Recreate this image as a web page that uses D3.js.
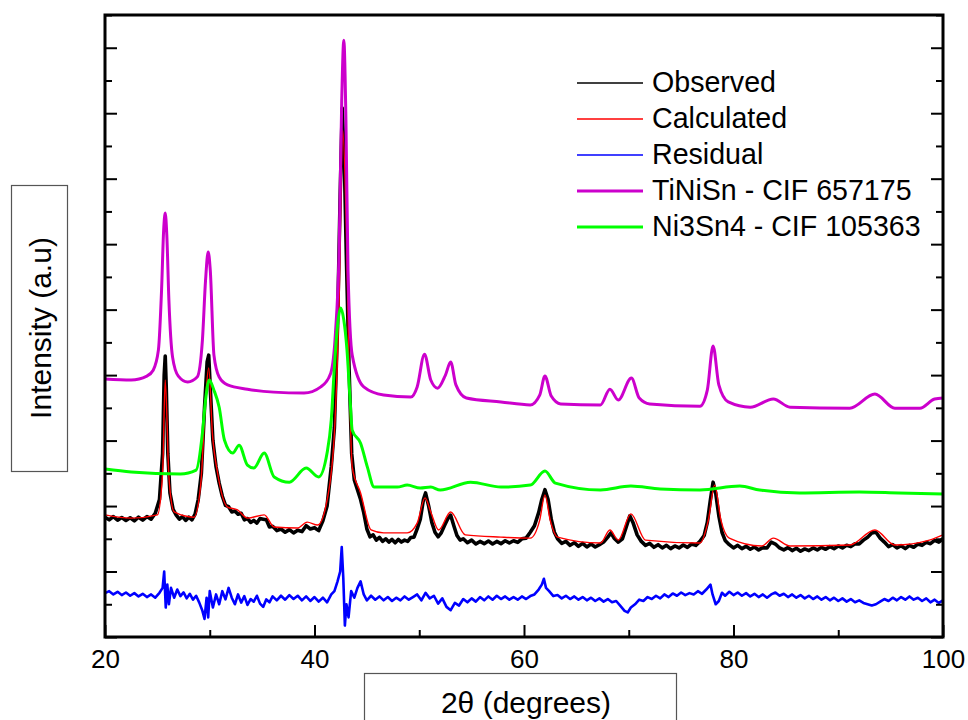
<!DOCTYPE html>
<html>
<head>
<meta charset="utf-8">
<script src="https://cdn.jsdelivr.net/npm/d3@7"></script>
<style>
  body { margin: 0; background: #fff; }
  svg { display: block; font-family: Arial, "Liberation Sans", sans-serif; }
</style>
</head>
<body>
<script>
var width = 968;
var height = 720;

// x ticks (2 theta) and y ticks (arbitrary intensity units)
var majorX = [20, 40, 60, 80, 100];
var minorX = [30, 50, 70, 90];
var majorY = [0, 200, 400, 600, 800, 1000, 1200, 1400, 1600, 1800];
var minorY = [100, 300, 500, 700, 900, 1100, 1300, 1500, 1700, 1900];

var legendNames = ["Observed", "Calculated", "Residual", "TiNiSn - CIF 657175", "Ni3Sn4 - CIF 105363"];

// [2theta, intensity]
var observed = [
  [20.0,366],[20.4,358],[20.8,368],[21.2,357],[21.6,365],[22.0,356],[22.4,364],[22.8,355],[23.2,366],[23.6,357],
  [24.0,368],[24.4,360],[24.8,378],[25.2,420],[25.5,560],[25.65,800],[25.75,858],[25.85,760],[26.0,560],[26.2,440],
  [26.5,390],[26.8,372],[27.1,360],[27.4,368],[27.7,356],[28.0,366],[28.3,358],[28.6,375],[28.9,420],[29.2,500],
  [29.5,700],[29.75,840],[29.9,861],[30.05,760],[30.3,600],[30.6,520],[30.9,470],[31.2,430],[31.5,402],[31.8,398],
  [32.1,382],[32.4,385],[32.7,375],[33.0,378],[33.3,358],[33.6,362],[33.9,350],[34.2,356],[34.5,348],[34.8,362],
  [35.1,360],[35.4,358],[35.7,336],[36.0,338],[36.4,325],[36.8,330],[37.2,320],[37.6,328],[38.0,318],[38.4,326],
  [38.8,322],[39.2,340],[39.6,330],[40.0,334],[40.4,325],[40.8,355],[41.2,400],[41.6,520],[41.9,640],[42.2,950],
  [42.45,1350],[42.65,1616],[42.85,1450],[43.05,1150],[43.3,820],[43.55,560],[43.8,480],[44.1,450],[44.4,420],[44.7,380],
  [45.0,330],[45.3,306],[45.6,312],[45.9,296],[46.2,304],[46.5,292],[46.8,300],[47.1,290],[47.4,298],[47.7,288],
  [48.0,298],[48.3,290],[48.6,296],[48.9,292],[49.2,304],[49.5,305],[49.8,330],[50.1,360],[50.4,420],[50.6,440],
  [50.9,400],[51.2,350],[51.5,320],[51.8,306],[52.1,318],[52.4,340],[52.7,360],[53.0,372],[53.3,340],[53.6,310],
  [53.9,296],[54.2,300],[54.6,288],[55.0,296],[55.4,284],[55.8,292],[56.2,285],[56.6,293],[57.0,284],[57.4,292],
  [57.8,285],[58.2,294],[58.6,287],[59.0,294],[59.4,289],[59.8,300],[60.2,302],[60.6,320],[61.0,340],[61.4,380],
  [61.7,420],[62.0,450],[62.3,420],[62.6,360],[62.9,320],[63.2,300],[63.6,286],[64.0,292],[64.4,280],[64.8,288],
  [65.2,277],[65.6,286],[66.0,275],[66.4,284],[66.8,275],[67.2,282],[67.6,290],[68.0,305],[68.3,318],[68.6,302],
  [69.0,290],[69.4,300],[69.8,340],[70.1,370],[70.4,350],[70.8,312],[71.2,292],[71.6,280],[72.0,286],[72.4,274],
  [72.8,282],[73.2,272],[73.6,280],[74.0,270],[74.4,278],[74.8,272],[75.2,281],[75.6,274],[76.0,284],[76.4,280],
  [76.8,292],[77.2,310],[77.5,350],[77.8,420],[78.05,473],[78.3,440],[78.6,370],[78.9,320],[79.2,295],[79.6,282],
  [80.0,272],[80.4,280],[80.8,270],[81.2,277],[81.6,268],[82.0,275],[82.4,266],[82.8,273],[83.2,272],[83.6,290],
  [84.0,284],[84.4,272],[84.8,266],[85.2,273],[85.6,264],[86.0,271],[86.4,262],[86.8,269],[87.2,264],[87.6,272],
  [88.0,266],[88.4,274],[88.8,268],[89.2,276],[89.6,270],[90.0,278],[90.4,272],[90.8,280],[91.2,276],[91.6,285],
  [92.0,284],[92.4,296],[92.8,305],[93.2,318],[93.6,320],[94.0,302],[94.4,290],[94.8,276],[95.2,282],[95.6,272],
  [96.0,279],[96.4,270],[96.8,280],[97.2,274],[97.6,284],[98.0,280],[98.4,289],[98.8,285],[99.2,295],[99.6,290],
  [100,300]
];

var calculated = [
  [20,373],[22.5,363],[25.0,373],[25.5,501],[25.75,785],[26.1,489],[26.6,382],[28.5,366],[29.15,470],[29.6,724],
  [29.9,822],[30.25,623],[30.75,501],[31.7,397],[32.65,388],[33.6,363],[35.2,373],[36.15,336],[38.4,333],[39.3,351],
  [40.3,342],[41.2,418],[41.9,623],[42.35,1029],[42.7,1548],[43.0,1304],[43.3,825],[43.6,519],[44.4,440],[45.4,327],
  [46.6,318],[48.85,318],[49.8,348],[50.55,425],[51.1,382],[51.85,327],[53.0,382],[54.4,312],[57.8,305],[60.6,302],
  [61.5,357],[62.0,434],[62.5,357],[63.2,305],[67.3,287],[68.2,327],[69.0,296],[70.2,376],[71.6,296],[76.8,287],
  [77.6,357],[78.2,464],[78.8,357],[79.6,302],[82.7,278],[83.8,302],[85.4,278],[91.1,281],[93.5,327],[95.4,281],
  [98.7,296],[100,312]
];

var residual = [
  [20.0,134],[20.4,140],[20.8,130],[21.2,138],[21.6,128],[22.0,136],[22.4,126],[22.8,134],[23.2,124],[23.6,132],
  [24.0,122],[24.4,130],[24.8,120],[25.2,135],[25.5,150],[25.65,200],[25.8,90],[25.95,160],[26.1,100],[26.3,150],
  [26.6,120],[26.9,145],[27.2,125],[27.5,136],[27.8,118],[28.1,132],[28.4,114],[28.7,126],[29.0,105],[29.3,80],
  [29.5,55],[29.7,120],[29.85,60],[30.0,140],[30.3,90],[30.6,130],[30.9,100],[31.2,140],[31.5,115],[31.8,150],
  [32.1,120],[32.4,100],[32.7,130],[33.0,105],[33.3,125],[33.6,98],[33.9,116],[34.2,108],[34.5,126],[34.8,102],
  [35.1,92],[35.4,115],[35.7,106],[36.0,124],[36.4,112],[36.8,126],[37.2,114],[37.6,128],[38.0,116],[38.4,126],
  [38.8,112],[39.2,124],[39.6,110],[40.0,122],[40.4,108],[40.8,120],[41.2,106],[41.6,130],[41.9,140],[42.2,170],
  [42.45,200],[42.6,275],[42.75,180],[42.9,35],[43.05,100],[43.25,60],[43.5,140],[43.8,120],[44.1,150],[44.4,170],
  [44.7,130],[45.0,112],[45.4,126],[45.8,114],[46.2,124],[46.6,112],[47.0,122],[47.4,110],[47.8,120],[48.2,112],
  [48.6,124],[49.0,114],[49.4,122],[49.8,130],[50.2,112],[50.6,135],[51.0,118],[51.4,126],[51.8,102],[52.2,118],
  [52.6,92],[53.0,82],[53.4,104],[53.8,96],[54.2,116],[54.6,106],[55.0,118],[55.4,108],[55.8,122],[56.2,112],
  [56.6,124],[57.0,114],[57.4,126],[57.8,116],[58.2,124],[58.6,114],[59.0,122],[59.4,114],[59.8,124],[60.2,116],
  [60.6,125],[61.0,130],[61.4,145],[61.7,160],[61.9,178],[62.1,150],[62.4,140],[62.8,125],[63.2,128],[63.6,118],
  [64.0,126],[64.4,116],[64.8,124],[65.2,114],[65.6,122],[66.0,112],[66.4,120],[66.8,110],[67.2,118],[67.6,108],
  [68.0,116],[68.4,106],[68.8,110],[69.2,95],[69.6,80],[69.9,75],[70.2,90],[70.6,100],[71.0,114],[71.4,110],
  [71.8,122],[72.2,116],[72.6,126],[73.0,118],[73.4,130],[73.8,122],[74.2,133],[74.6,126],[75.0,136],[75.4,128],
  [75.8,134],[76.2,130],[76.6,140],[77.0,132],[77.4,145],[77.8,160],[78.0,130],[78.3,100],[78.6,110],[78.9,135],
  [79.2,126],[79.6,138],[80.0,128],[80.4,136],[80.8,126],[81.2,134],[81.6,124],[82.0,132],[82.4,122],[82.8,130],
  [83.2,120],[83.6,130],[84.0,136],[84.4,126],[84.8,132],[85.2,122],[85.6,130],[86.0,120],[86.4,128],[86.8,118],
  [87.2,126],[87.6,116],[88.0,124],[88.4,114],[88.8,122],[89.2,112],[89.6,120],[90.0,110],[90.4,118],[90.8,108],
  [91.2,116],[91.6,106],[92.0,112],[92.4,104],[92.8,100],[93.2,96],[93.6,100],[94.0,108],[94.4,116],[94.8,110],
  [95.2,120],[95.6,112],[96.0,122],[96.4,114],[96.8,124],[97.2,114],[97.6,120],[98.0,110],[98.4,118],[98.8,106],
  [99.2,114],[99.6,104],[100,112]
];

var tinisn = [
  [20,788],[22.5,785],[24.0,797],[24.6,815],[25.1,877],[25.4,1060],[25.6,1243],[25.75,1295],[25.9,1228],[26.1,1029],
  [26.45,855],[27.0,797],[27.9,779],[28.8,794],[29.3,907],[29.6,1090],[29.85,1176],[30.05,1121],[30.4,861],[30.9,794],
  [31.7,770],[33.6,757],[36.1,748],[39.0,745],[40.6,764],[41.55,806],[42.0,928],[42.35,1182],[42.6,1640],[42.8,1823],
  [43.0,1579],[43.2,1121],[43.6,861],[44.7,764],[46.6,739],[49.2,733],[49.8,764],[50.5,864],[51.1,785],[51.75,760],
  [52.5,800],[53.0,840],[53.5,770],[54.5,730],[57.8,718],[60.6,709],[61.5,739],[62.0,797],[62.6,736],[63.5,712],
  [67.3,709],[68.2,757],[69.0,724],[70.25,791],[71.0,730],[72.0,712],[76.8,705],[77.5,754],[78.05,889],[78.6,770],
  [79.5,718],[81.6,702],[83.8,727],[85.4,702],[91.1,699],[93.5,742],[95.4,699],[97.8,699],[99.2,727],[100,730]
];

var ni3sn4 = [
  [20,513],[22.5,504],[27.2,498],[28.7,510],[29.3,623],[29.6,724],[29.95,785],[30.4,754],[30.9,702],[31.4,602],
  [32.2,562],[32.8,586],[33.6,525],[34.2,516],[35.2,562],[36.15,489],[37.6,473],[39.2,516],[40.4,489],[41.2,562],
  [41.6,663],[41.9,825],[42.2,953],[42.5,1005],[42.8,968],[43.1,877],[43.4,724],[43.6,632],[44.4,592],[45.05,519],
  [45.7,458],[47.9,458],[48.85,464],[50.1,455],[51.1,458],[52.0,449],[54.9,473],[57.8,458],[60.6,464],[62.0,507],
  [63.0,470],[67.3,449],[70.2,461],[73.0,452],[76.8,449],[80.6,461],[82.5,449],[86.3,440],[92,443],[95.8,440],
  [100,437]
];

var colors = ["#000000", "#ff0000", "#0000ff", "#cc00cc", "#00ff00"];

var plotLeft = 105, plotRight = 943, plotTop = 15, plotBottom = 637;

var svg = d3.select("body").append("svg")
    .attr("width", width)
    .attr("height", height)

var x = d3.scaleLinear().domain([20, 100]).range([plotLeft, plotRight]);
var y = d3.scaleLinear().domain([0, 1900]).range([plotBottom, plotTop]);

var jagged = d3.line()
  .x(function(d) { return x(d[0]); })
  .y(function(d) { return y(d[1]); });

var smooth = d3.line()
  .x(function(d) { return x(d[0]); })
  .y(function(d) { return y(d[1]); })
  .curve(d3.curveMonotoneX);

var plot = svg.append("g");

plot.append("path").attr("d", jagged(observed))
  .attr("fill", "none").attr("stroke", colors[0]).attr("stroke-width", 3.6).attr("stroke-linejoin", "round");
plot.append("path").attr("d", smooth(calculated))
  .attr("fill", "none").attr("stroke", colors[1]).attr("stroke-width", 1.4);
plot.append("path").attr("d", jagged(residual))
  .attr("fill", "none").attr("stroke", colors[2]).attr("stroke-width", 2.6).attr("stroke-linejoin", "round");
plot.append("path").attr("d", smooth(tinisn))
  .attr("fill", "none").attr("stroke", colors[3]).attr("stroke-width", 3);
plot.append("path").attr("d", smooth(ni3sn4))
  .attr("fill", "none").attr("stroke", colors[4]).attr("stroke-width", 3);

// ticks point inward
function styleAxis(g) {
  g.select(".domain").remove();
  g.selectAll(".tick line").attr("stroke", "#000").attr("stroke-width", 2);
  g.selectAll("text").attr("font-size", 26).attr("fill", "#000")
    .attr("font-family", "Arial, 'Liberation Sans', sans-serif");
}

svg.append("g").attr("transform", "translate(0," + plotBottom + ")")
  .call(d3.axisBottom(x).tickValues(majorX).tickSize(-12).tickPadding(13).tickFormat(d3.format("d")))
  .call(styleAxis);
svg.append("g").attr("transform", "translate(0," + plotBottom + ")")
  .call(d3.axisBottom(x).tickValues(minorX).tickSize(-7).tickFormat(""))
  .call(styleAxis);
svg.append("g").attr("transform", "translate(" + plotLeft + ",0)")
  .call(d3.axisLeft(y).tickValues(majorY).tickSize(-12).tickFormat(""))
  .call(styleAxis);
svg.append("g").attr("transform", "translate(" + plotLeft + ",0)")
  .call(d3.axisLeft(y).tickValues(minorY).tickSize(-7).tickFormat(""))
  .call(styleAxis);
svg.append("g").attr("transform", "translate(" + plotRight + ",0)")
  .call(d3.axisRight(y).tickValues(majorY).tickSize(-12).tickFormat(""))
  .call(styleAxis);
svg.append("g").attr("transform", "translate(" + plotRight + ",0)")
  .call(d3.axisRight(y).tickValues(minorY).tickSize(-7).tickFormat(""))
  .call(styleAxis);

// frame
svg.append("rect")
  .attr("x", plotLeft).attr("y", plotTop)
  .attr("width", plotRight - plotLeft).attr("height", plotBottom - plotTop)
  .attr("fill", "none").attr("stroke", "#000").attr("stroke-width", 3);

// legend
var legend = svg.append("g").selectAll("g")
  .data(legendNames)
.enter().append("g")
  .attr("transform", function(d, i) { return "translate(577," + (83 + i * 36) + ")"; });

legend.append("line")
  .attr("x1", 0).attr("x2", 66)
  .attr("stroke", function(d, i) { return colors[i]; })
  .attr("stroke-width", function(d, i) { return i < 3 ? 1.3 : 3; });

legend.append("text")
  .attr("x", 75).attr("y", 9)
  .attr("font-size", 28.6)
  .text(function(d) { return d; });

// axis titles in boxes
svg.append("rect")
  .attr("x", 11.5).attr("y", 185.5).attr("width", 56).attr("height", 286)
  .attr("fill", "none").attr("stroke", "#555").attr("stroke-width", 1.2);
svg.append("text")
  .attr("transform", "translate(40,328) rotate(-90)")
  .attr("text-anchor", "middle")
  .attr("dy", "0.36em")
  .attr("font-size", 30)
  .text("Intensity (a.u)");

svg.append("rect")
  .attr("x", 364.5).attr("y", 673.5).attr("width", 312).attr("height", 60)
  .attr("fill", "none").attr("stroke", "#555").attr("stroke-width", 1.2);
svg.append("text")
  .attr("x", 526).attr("y", 713)
  .attr("text-anchor", "middle")
  .attr("font-size", 30)
  .text("2θ (degrees)");
</script>
</body>
</html>
